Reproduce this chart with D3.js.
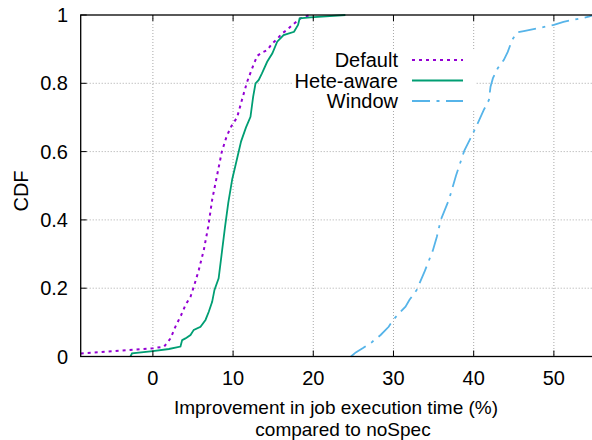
<!DOCTYPE html>
<html><head><meta charset="utf-8">
<script src="https://cdn.jsdelivr.net/npm/d3@7"></script>
<style>
html,body{margin:0;padding:0;background:#fff;}
svg{display:block;font-family:"Liberation Sans",Arial,Helvetica,sans-serif;}
</style></head>
<body><svg id="c" width="592" height="440"></svg>
<script>
// ---- data ----
const xTicks = [0, 10, 20, 30, 40, 50];
const yTicks = [0, 0.2, 0.4, 0.6, 0.8, 1];
const yTickLabels = ["0", "0.2", "0.4", "0.6", "0.8", "1"];
const seriesNames = ["Default", "Hete-aware", "Window"];

const defaultX = [-9, -4, 0, 1.4, 2.2, 2.8, 3.5, 4.07, 4.69, 5.1, 5.72, 6.35, 6.9, 7.4, 8.0, 8.6, 9.2, 9.8, 10.5, 11.1, 11.76, 12.4, 13.0, 13.6, 14.25, 14.9, 15.5, 16.1, 16.7, 17.4, 18.4, 19.2, 19.6];
const defaultY = [0.009, 0.017, 0.024, 0.029, 0.053, 0.087, 0.12, 0.151, 0.175, 0.204, 0.253, 0.312, 0.38, 0.46, 0.53, 0.6, 0.645, 0.675, 0.70, 0.751, 0.805, 0.845, 0.88, 0.89, 0.897, 0.917, 0.93, 0.946, 0.956, 0.971, 0.99, 0.997, 1.0];

const heteX = [-2.8, -2.6, 0, 2, 3.44, 3.65, 4.06, 4.69, 5.1, 5.94, 6.56, 6.97, 7.39, 7.68, 8.2, 8.64, 9.0, 9.4, 9.9, 10.5, 11.0, 11.6, 12.17, 12.5, 12.8, 13.2, 13.6, 14.25, 14.9, 15.5, 16.3, 17.6, 18.1, 18.3, 19.65, 24];
const heteY = [0, 0.009, 0.016, 0.022, 0.029, 0.048, 0.053, 0.063, 0.078, 0.087, 0.107, 0.131, 0.16, 0.195, 0.229, 0.312, 0.38, 0.45, 0.52, 0.58, 0.63, 0.67, 0.702, 0.76, 0.80, 0.81, 0.829, 0.863, 0.888, 0.922, 0.941, 0.951, 0.971, 0.99, 0.993, 1.0];

const windowX = [24.7, 25.3, 26.2, 27.3, 28.4, 29.4, 29.96, 30.66, 31.5, 32.0, 32.9, 33.9, 34.9, 35.4, 35.9, 36.9, 37.8, 38.85, 39.6, 40.0, 40.6, 41.26, 41.9, 42.1, 42.4, 43.0, 43.75, 44.25, 44.8, 45.4, 46.25, 50.0, 51.2, 54.35, 55];
const windowY = [0, 0.012, 0.025, 0.042, 0.063, 0.087, 0.107, 0.126, 0.146, 0.166, 0.195, 0.25, 0.31, 0.35, 0.40, 0.458, 0.53, 0.604, 0.639, 0.658, 0.688, 0.722, 0.751, 0.79, 0.815, 0.844, 0.868, 0.892, 0.927, 0.949, 0.953, 0.971, 0.98, 0.995, 1.0];

// ---- layout ----
const L = 80.7, T = 15, B = 356.5;
const pxPer10 = 80.2;
const R = L + 64 * pxPer10 / 10;
const x = d3.scaleLinear().domain([-9, 55]).range([L, R]);
const y = d3.scaleLinear().domain([0, 1]).range([B, T]);

const svg = d3.select("#c");
const colors = ["#9400d3", "#009e73", "#56b4e9"];
const dashes = ["3,4", null, "18,6.5,3,6.5"];

// grid
const grid = svg.append("g");
grid.selectAll("line.gx").data(xTicks).enter().append("line")
  .attr("x1", d => x(d)).attr("x2", d => x(d)).attr("y1", T).attr("y2", B)
  .attr("stroke", "#a8a8a8").attr("stroke-width", 1).attr("stroke-dasharray", "1,2");
grid.selectAll("line.gy").data(yTicks.slice(1, -1)).enter().append("line")
  .attr("x1", L).attr("x2", R).attr("y1", d => y(d)).attr("y2", d => y(d))
  .attr("stroke", "#a8a8a8").attr("stroke-width", 1).attr("stroke-dasharray", "1,2");

// legend background (hides grid)
svg.append("rect").attr("x", 292).attr("y", 49).attr("width", 184).attr("height", 62).attr("fill", "#fff");

// series
const series = [
  defaultX.map((v, i) => [v, defaultY[i]]),
  heteX.map((v, i) => [v, heteY[i]]),
  windowX.map((v, i) => [v, windowY[i]])
];
const line = d3.line().x(d => x(d[0])).y(d => y(d[1]));
svg.append("defs").append("clipPath").attr("id", "clip").append("rect")
  .attr("x", L).attr("y", T - 2).attr("width", R - L).attr("height", B - T + 4);
series.forEach((s, i) => {
  svg.append("path").attr("d", line(s)).attr("fill", "none")
    .attr("stroke", colors[i]).attr("stroke-width", i === 0 ? 2 : 1.8)
    .attr("stroke-dasharray", dashes[i]).attr("clip-path", "url(#clip)");
});

// border
svg.append("rect").attr("x", L).attr("y", T).attr("width", R - L).attr("height", B - T)
  .attr("fill", "none").attr("stroke", "#000").attr("stroke-width", 1.3);

// ticks
const tk = svg.append("g").attr("stroke", "#000").attr("stroke-width", 1);
xTicks.forEach(v => {
  tk.append("line").attr("x1", x(v)).attr("x2", x(v)).attr("y1", B).attr("y2", B - 6);
  tk.append("line").attr("x1", x(v)).attr("x2", x(v)).attr("y1", T).attr("y2", T + 6);
});
yTicks.forEach(v => {
  tk.append("line").attr("x1", L).attr("x2", L + 6).attr("y1", y(v)).attr("y2", y(v));
});

// tick labels
svg.selectAll("text.xt").data(xTicks).enter().append("text")
  .attr("x", d => x(d)).attr("y", 385).attr("text-anchor", "middle")
  .attr("font-size", 20).attr("fill", "#000").text(d => d);
svg.selectAll("text.yt").data(yTicks).enter().append("text")
  .attr("x", 68).attr("y", d => y(d) + 7).attr("text-anchor", "end")
  .attr("font-size", 20).attr("fill", "#000").text((d, i) => yTickLabels[i]);

// axis titles
svg.append("text").attr("transform", "translate(28,191) rotate(-90)")
  .attr("text-anchor", "middle").attr("font-size", 20).text("CDF");
svg.append("text").attr("x", 336).attr("y", 414).attr("text-anchor", "middle")
  .attr("font-size", 19).text("Improvement in job execution time (%)");
svg.append("text").attr("x", 343).attr("y", 435.5).attr("text-anchor", "middle")
  .attr("font-size", 19).text("compared to noSpec");

// legend
const lg = [67, 87.5, 108];
seriesNames.forEach((n, i) => {
  svg.append("text").attr("x", 398).attr("y", lg[i]).attr("text-anchor", "end")
    .attr("font-size", 20).text(n);
  svg.append("line").attr("x1", 412).attr("x2", 463).attr("y1", lg[i] - 7).attr("y2", lg[i] - 7)
    .attr("stroke", colors[i]).attr("stroke-width", i === 0 ? 2 : 1.8)
    .attr("stroke-dasharray", dashes[i]);
});
</script></body></html>
